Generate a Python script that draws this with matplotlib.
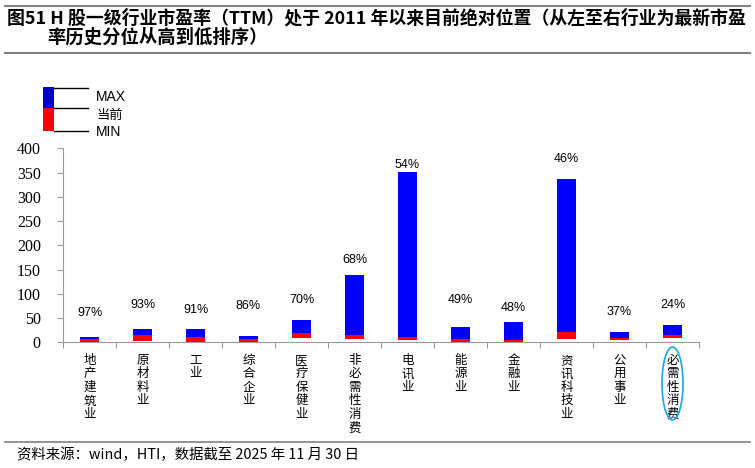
import matplotlib
matplotlib.use("Agg")
import matplotlib.pyplot as plt
from matplotlib.patches import Ellipse, Rectangle
from matplotlib.lines import Line2D
import numpy as np

plt.rcParams['font.family'] = ['Noto Sans CJK SC', 'DejaVu Sans']

categories = ["地产建筑业", "原材料业", "工业", "综合企业", "医疗保健业", "非必需性消费",
              "电讯业", "能源业", "金融业", "资讯科技业", "公用事业", "必需性消费"]
max_pe = [11, 27, 27, 14, 46, 139, 352, 31.5, 41, 336, 20.5, 35.5]
cur_pe = [7, 15, 11.5, 7, 20, 15, 10.5, 7, 5, 20.5, 9.5, 15.5]
min_pe = [1, 2, 1, 1, 9, 6, 4, 1, 1.5, 7, 5, 9.5]
pct_labels = ["97%", "93%", "91%", "86%", "70%", "68%", "54%", "49%", "48%", "46%", "37%", "24%"]
label_y = [60, 76, 67, 75, 88, 170, 365, 88, 71, 378, 62, 77]
yticks = [0, 50, 100, 150, 200, 250, 300, 350, 400]

W, H = 755, 468
fig = plt.figure(figsize=(W / 100, H / 100), dpi=100)

ax = fig.add_axes([63 / W, (H - 342.3) / H, (699 - 63) / W, (342.3 - 148.3) / H])
x = np.arange(len(categories))
cur = np.array(cur_pe); mx = np.array(max_pe); mn = np.array(min_pe)
bw = 0.34
ax.bar(x, cur - mn, bottom=mn, width=bw, color="#FF0000", edgecolor="none")
ax.bar(x, mx - cur, bottom=cur, width=bw, color="#0000FF", edgecolor="none")

for xi, t, yv in zip(x, pct_labels, label_y):
    ax.text(xi, yv, t, ha="center", va="center", fontsize=9,
            family=["Liberation Sans", "DejaVu Sans"])

ax.set_xlim(-0.5, len(categories) - 0.5)
ax.set_ylim(0, 400)
ax.set_yticks(yticks)
ax.set_yticklabels([" ".join(str(v)) if False else str(v) for v in yticks],
                   family=["Liberation Serif", "DejaVu Serif"], fontsize=11.5)
ax.set_xticks(np.arange(len(categories) + 1) - 0.5)
ax.set_xticklabels([])
ax.tick_params(axis="both", direction="out", length=4, color="#999999", width=0.8)
ax.tick_params(axis="y", pad=12)
for s in ["top", "right"]:
    ax.spines[s].set_visible(False)
for s in ["left", "bottom"]:
    ax.spines[s].set_color("#999999")
    ax.spines[s].set_linewidth(0.8)

for xi, c in zip(x, categories):
    ax.text(xi, -0.06, "\n".join(c), transform=ax.get_xaxis_transform(), ha="center", va="top",
            fontsize=9, linespacing=1.05)

# ellipse around last label
ell = Ellipse(((672.5) / W, 1 - 383.5 / H), 21 / W, 73 / H, transform=fig.transFigure,
              fill=False, edgecolor="#1AA7E8", linewidth=1.2)
fig.add_artist(ell)

# legend graphic
fig.add_artist(Rectangle((43 / W, 1 - 108 / H), 11 / W, 21 / H, transform=fig.transFigure,
                         facecolor="#0000CC", edgecolor="none"))
fig.add_artist(Rectangle((43 / W, 1 - 131 / H), 11 / W, 23 / H, transform=fig.transFigure,
                         facecolor="#FF0000", edgecolor="none"))
for yy in [87.5, 108, 131]:
    fig.add_artist(Line2D([54 / W, 88 / W], [1 - yy / H, 1 - yy / H], transform=fig.transFigure,
                          color="black", linewidth=1))
fig.text(96 / W, 1 - 97 / H, "MAX", fontsize=10, va="center", family=["Liberation Sans", "DejaVu Sans"])
fig.text(96 / W, 1 - 115 / H, "当前", fontsize=9.5, va="center")
fig.text(96 / W, 1 - 132 / H, "MIN", fontsize=10, va="center", family=["Liberation Sans", "DejaVu Sans"])

# title
for yy in [5.5, 53]:
    fig.add_artist(Line2D([5 / W, 750 / W], [1 - yy / H, 1 - yy / H], transform=fig.transFigure,
                          color="#808080", linewidth=1.5))
fig.text(7 / W, 1 - 18 / H, "图51 H 股一级行业市盈率（TTM）处于 2011 年以来目前绝对位置（从左至右行业为最新市盈",
         fontsize=12.9, fontweight="bold", va="center")
fig.text(47 / W, 1 - 37 / H, "率历史分位从高到低排序）", fontsize=13.2, fontweight="bold", va="center")

# footer
fig.add_artist(Line2D([5 / W, 750 / W], [1 - 441.5 / H, 1 - 441.5 / H], transform=fig.transFigure,
                      color="#808080", linewidth=1.2))
fig.text(17 / W, 1 - 455 / H, "资料来源：wind，HTI，数据截至 2025 年 11 月 30 日", fontsize=10.4, va="center")

fig.savefig("out.png", dpi=100)
